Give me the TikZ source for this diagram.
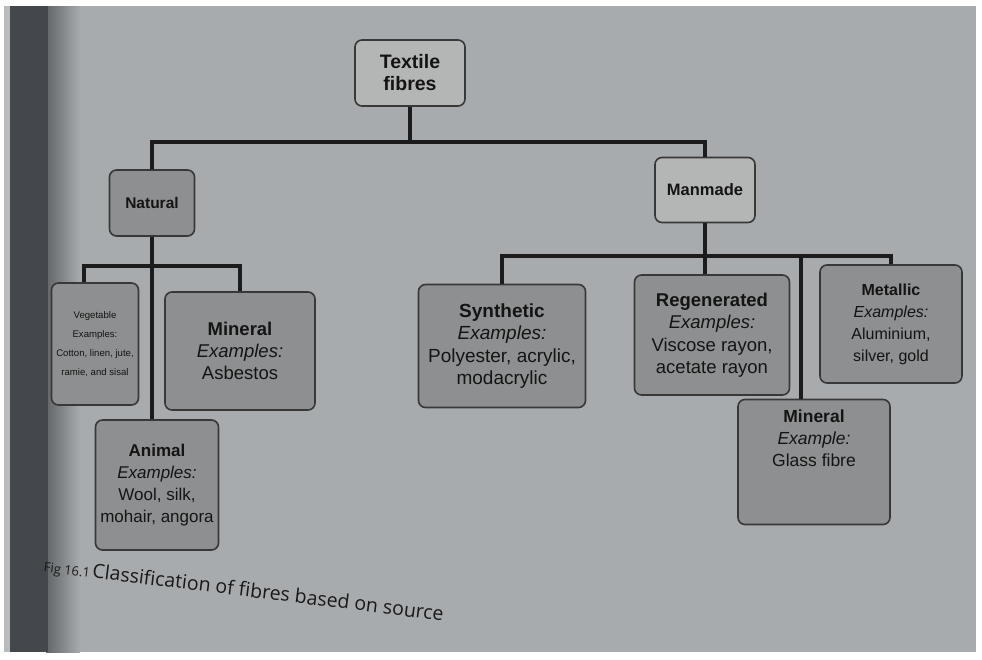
\documentclass[tikz,border=0pt]{standalone}
\usepackage{fontspec}
\setmainfont{Liberation Sans}
\newfontfamily\capfont{Open Sans}
\usetikzlibrary{calc}
\definecolor{pagebg}{HTML}{A8ABAD}
\definecolor{lightbox}{HTML}{B4B5B5}
\definecolor{darkbox}{HTML}{8E8F90}
\definecolor{boxline}{HTML}{383838}
\definecolor{conn}{HTML}{1C1C1C}
\definecolor{spine}{HTML}{44484C}
\tikzset{
  fbox/.style={draw=boxline, line width=1.6pt, rounded corners=7pt, align=center,
    inner sep=1pt, text=black!92},
  lightfbox/.style={fbox, fill=lightbox},
  darkfbox/.style={fbox, fill=darkbox},
  wire/.style={draw=conn, line width=3.6pt}
}
\begin{document}
\begin{tikzpicture}[x=1pt,y=-1pt]
\useasboundingbox (0,0) rectangle (982,659);
% page
\fill[white] (0,0) rectangle (982,659);
\fill[pagebg] (4,6) rectangle (976,652);
\shade[left color=spine!70!pagebg, right color=pagebg] (46,6) rectangle (80,652);
\fill[spine] (10,6) rectangle (48,652);
\fill[pagebg!80!white] (4,6) rectangle (10,652);

% nodes
\node[lightfbox, minimum width=110, minimum height=66, font=\bfseries\fontsize{19.5}{22}\selectfont] (tf) at (410,73) {Textile\\fibres};
\node[darkfbox, minimum width=85, minimum height=66, font=\bfseries\fontsize{15.5}{18}\selectfont] (nat) at (152,203) {Natural};
\node[lightfbox, minimum width=100, minimum height=65, font=\bfseries\fontsize{16.5}{19}\selectfont] (man) at (705,190) {Manmade};

\node[darkfbox, minimum width=87, minimum height=122, font=\fontsize{9.6}{19}\selectfont] (veg) at (95,344) {Vegetable\\Examples:\\Cotton, linen, jute,\\ramie, and sisal};
\node[darkfbox, minimum width=150, minimum height=118, font=\fontsize{18.5}{22}\selectfont] (minl) at (240,351) {\textbf{Mineral}\\\textit{Examples:}\\Asbestos};
\node[darkfbox, minimum width=123, minimum height=130, font=\fontsize{17}{22}\selectfont] (ani) at (157,485) {\textbf{Animal}\\\textit{Examples:}\\Wool, silk,\\mohair, angora};

\node[darkfbox, minimum width=167, minimum height=123, font=\fontsize{19}{22.5}\selectfont] (syn) at (502,346) {\textbf{Synthetic}\\\textit{Examples:}\\Polyester, acrylic,\\modacrylic};
\node[darkfbox, minimum width=155, minimum height=120, font=\fontsize{18.5}{22.5}\selectfont] (reg) at (712,335) {\textbf{Regenerated}\\\textit{Examples:}\\Viscose rayon,\\acetate rayon};
\node[darkfbox, minimum width=142, minimum height=118, font=\fontsize{16}{22}\selectfont] (met) at (891,324) {\textbf{Metallic}\\\textit{Examples:}\\Aluminium,\\silver, gold};
\node[darkfbox, minimum width=152, minimum height=125, font=\fontsize{17.5}{22}\selectfont] (minr) at (814,462) {\textbf{Mineral}\\\textit{Example:}\\Glass fibre\\[26pt]};

% bus coordinates
\coordinate (bus1) at (410,142);
\coordinate (bus2) at (152,266);
\coordinate (vegdrop) at (84,266);
\coordinate (bus3) at (705,256);
\coordinate (mindrop) at (801,256);

% connectors
\draw[wire] (tf.south) -- (bus1);
\draw[wire] (nat.north) |- (bus1) -| (man.north);
\draw[wire] (nat.south) -- (ani.north -| nat.south);
\draw[wire] (vegdrop |- veg.north) -- (vegdrop) -| (minl.north);
\draw[wire] (man.south) -- (bus3);
\draw[wire] (syn.north) |- (bus3) -| (met.north);
\draw[wire] (reg.north -| bus3) -- (bus3);
\draw[wire] (mindrop) -- (mindrop |- minr.north);

% caption
\node[rotate=-7, anchor=west, inner sep=0pt, text=black!90, font=\capfont] (cap) at (44,566)
  {{\fontsize{13}{15}\selectfont Fig 16.1} {\fontsize{19.5}{22}\selectfont Classification of fibres based on source}};
\end{tikzpicture}
\end{document}
